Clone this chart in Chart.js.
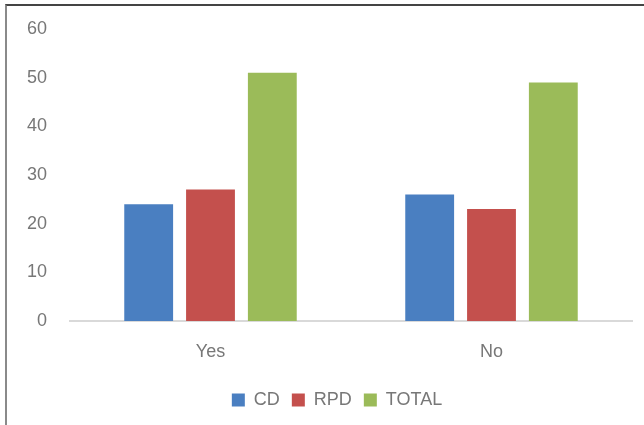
<!DOCTYPE html>
<html>
<head>
<meta charset="utf-8">
<script src="https://cdn.jsdelivr.net/npm/chart.js"></script>
<style>
  body { margin: 0; background: #fff; }
  #wrap { position: relative; width: 644px; height: 425px; }
  #frame { position: absolute; left: 5px; top: 4px; right: 0; bottom: 0;
           border-top: 2px solid #444; border-left: 2px solid #8a8a8a; pointer-events: none; }
</style>
</head>
<body>
<div id="wrap">
  <canvas id="myChart" width="644" height="425"></canvas>
  <div id="frame"></div>
</div>
<script>
// chart data
const categories = ['Yes', 'No'];
const cdValues = [24, 26];
const rpdValues = [27, 23];
const totalValues = [51, 49];
const yTicks = [0, 10, 20, 30, 40, 50, 60];

// legend in the original sits a bit right of the canvas centre
const legendShift = {
  id: 'legendShift',
  afterLayout(chart) {
    chart.legend.left += 16;
    chart.legend.right += 16;
  }
};

const ctx = document.getElementById('myChart');
new Chart(ctx, {
  type: 'bar',
  data: {
    labels: categories,
    datasets: [
      { label: 'CD', data: cdValues, backgroundColor: '#4a7fc1' },
      { label: 'RPD', data: rpdValues, backgroundColor: '#c4504d' },
      { label: 'TOTAL', data: totalValues, backgroundColor: '#9bbb59' }
    ]
  },
  options: {
    responsive: false,
    animation: false,
    barPercentage: 0.79,
    categoryPercentage: 0.66,
    layout: { padding: { left: 10, right: 12, top: 29, bottom: 6 } },
    plugins: {
      tooltip: { enabled: false },
      legend: {
        position: 'bottom',
        labels: {
          boxWidth: 13, boxHeight: 13, padding: 12,
          color: '#777', font: { family: 'Liberation Sans', size: 18 }
        }
      }
    },
    scales: {
      x: {
        grid: { display: false, drawTicks: false },
        border: { display: true, color: '#d9d9d9', width: 2 },
        ticks: { padding: 20, color: '#777', font: { family: 'Liberation Sans', size: 18 } },
        afterFit: (s) => { s.height = 58; }
      },
      y: {
        min: 0, max: 60,
        afterBuildTicks: (s) => { s.ticks = yTicks.map(v => ({ value: v })); },
        grid: { display: false, drawTicks: false },
        border: { display: false },
        ticks: { padding: 23, color: '#777', font: { family: 'Liberation Sans', size: 18 } },
        afterFit: (s) => { s.width = 60; s.paddingTop = 0; s.paddingBottom = 0; }
      }
    }
  },
  plugins: [legendShift]
});
</script>
</body>
</html>
